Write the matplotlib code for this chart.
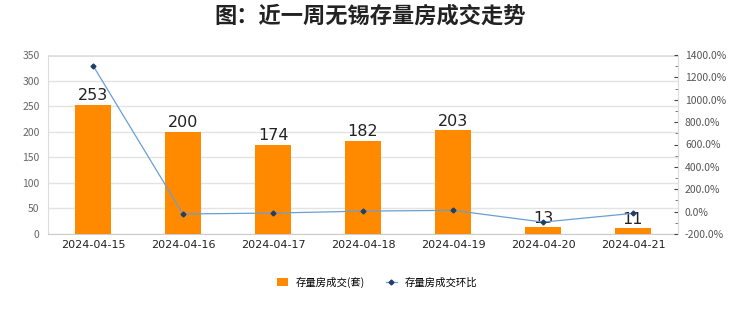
import matplotlib
matplotlib.use("Agg")
import matplotlib.pyplot as plt
from matplotlib.ticker import FixedLocator, MultipleLocator
from matplotlib.lines import Line2D
from matplotlib.patches import Patch

plt.rcParams['font.family'] = ['Noto Sans CJK SC', 'DejaVu Sans']

dates = ["2024-04-15", "2024-04-16", "2024-04-17", "2024-04-18",
         "2024-04-19", "2024-04-20", "2024-04-21"]
volume = [253, 200, 174, 182, 203, 13, 11]
mom_pct = [1305.6, -20.9, -13.0, 4.6, 11.5, -93.6, -15.4]
left_ticks = [0, 50, 100, 150, 200, 250, 300, 350]
right_ticks = [-200, 0, 200, 400, 600, 800, 1000, 1200, 1400]

title = "图：近一周无锡存量房成交走势"
bar_label = "存量房成交(套)"
line_label = "存量房成交环比"

fig = plt.figure(figsize=(7.4, 3.12), dpi=100)
ax = fig.add_axes([48/740, 78/312, 630/740, 179/312])
x = list(range(len(dates)))

bars = ax.bar(x, volume, width=0.4, color="#ff8a00", zorder=3)
for xi, v in zip(x, volume):
    ax.text(xi, v + 3, str(v), ha="center", va="bottom", fontsize=11.5,
            color="#222222", zorder=5, family="DejaVu Sans")

ax.set_xlim(-0.5, len(dates) - 0.5)
ax.set_ylim(0, 350)
ax.yaxis.set_major_locator(FixedLocator(left_ticks))
ax.grid(axis="y", color="#e3e3e3", linewidth=1, zorder=0)
ax.axhline(350, color="#dcdcdc", linewidth=2, zorder=1)
ax.set_xticks(x)
ax.set_xticklabels(dates, fontsize=8, color="#222222", family="DejaVu Sans")
ax.tick_params(axis="x", length=0, pad=4)
ax.tick_params(axis="y", length=0, labelsize=7.5, labelcolor="#666666", pad=6)
ax.spines["top"].set_visible(False)
ax.spines["left"].set_color("#dddddd")
ax.spines["bottom"].set_color("#cccccc")
ax.spines["right"].set_color("#dddddd")
ax.set_facecolor("none")

ax2 = ax.twinx()
ax2.plot(x, mom_pct, color="#6a9fd4", linewidth=0.9, marker="D", markersize=2.5,
         markerfacecolor="#1f3f66", markeredgecolor="#1f3f66", zorder=6)
ax2.set_ylim(-200, 1400)
ax2.yaxis.set_major_locator(FixedLocator(right_ticks))
ax2.yaxis.set_minor_locator(MultipleLocator(100))
ax2.set_yticklabels([f"{t:.1f}%" for t in right_ticks])
ax2.tick_params(axis="y", which="major", direction="in", length=3, color="#444444",
                labelsize=7.5, labelcolor="#555555", pad=5)
ax2.tick_params(axis="y", which="minor", direction="in", length=2, color="#666666")
for s in ["top", "left", "bottom"]:
    ax2.spines[s].set_visible(False)
ax2.spines["right"].set_color("#dddddd")

fig.suptitle(title, x=0.5, y=0.985, fontsize=16, fontweight="bold", color="#222222")

handles = [Patch(facecolor="#ff8a00", edgecolor="none"),
           Line2D([0], [0], color="#6a9fd4", linewidth=0.9, marker="D", markersize=2.5,
                  markerfacecolor="#1f3f66", markeredgecolor="#1f3f66")]
fig.legend(handles, [bar_label, line_label], loc="center", bbox_to_anchor=(0.51, 0.095),
           ncol=2, frameon=False, fontsize=7.5, handlelength=1.0, handleheight=0.8,
           columnspacing=2.0, handletextpad=0.8)

fig.savefig("out.png", dpi=100, facecolor="white")
